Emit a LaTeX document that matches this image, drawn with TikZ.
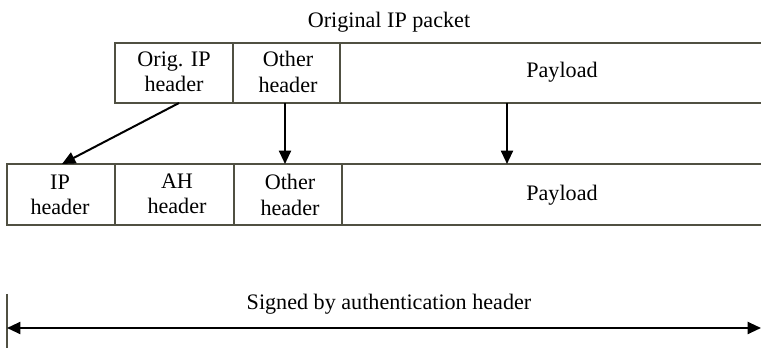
\documentclass[tikz,border=0pt]{standalone}
\usepackage{fontspec}
\setmainfont{Liberation Serif}
\usetikzlibrary{arrows.meta}
\definecolor{framecol}{RGB}{80,80,66}
\begin{document}
\begin{tikzpicture}[x=0.75pt,y=-0.75pt,
  frame/.style={draw=framecol,line width=1.5pt},
  lbl/.style={font=\fontsize{16.6}{19}\selectfont,align=center,inner sep=0pt},
  conn/.style={draw=black,line width=1.5pt,-{Triangle[length=10pt,width=9pt]}},
  span/.style={draw=black,line width=1.5pt,{Triangle[length=10pt,width=9pt]}-{Triangle[length=10pt,width=9pt]}}]
\useasboundingbox (0,0) rectangle (761,348);
% titles
\node[lbl] (title) at (389,22) {Original IP packet};
\node[lbl] (signed) at (389,304) {Signed by authentication header};
% top row
\draw[frame] (761,43) -- (115,43) -- (115,103) -- (761,103);
\draw[frame] (233,43) -- (233,103);
\draw[frame] (340,43) -- (340,103);
\node[lbl] (oip) at (174,72) {Orig. IP\\header};
\node[lbl] (oth1) at (288,72) {Other\\header};
\node[lbl] (pay1) at (562,72) {Payload};
% bottom row
\draw[frame] (761,164) -- (7,164) -- (7,225) -- (761,225);
\draw[frame] (115,164) -- (115,225);
\draw[frame] (234,164) -- (234,225);
\draw[frame] (342,164) -- (342,225);
\node[lbl] (ip) at (60,195) {IP\\header};
\node[lbl] (ah) at (177,194) {AH\\header};
\node[lbl] (oth2) at (290,195) {Other\\header};
\node[lbl] (pay2) at (562,195) {Payload};
% connector end points
\coordinate (a1) at (179,103);
\coordinate (b1) at (62,164);
\coordinate (a2) at (285,103);
\coordinate (b2) at (285,164);
\coordinate (a3) at (507,103);
\coordinate (b3) at (507,164);
\draw[conn] (a1) -- (b1);
\draw[conn] (a2) -- (b2);
\draw[conn] (a3) -- (b3);
% signed span
\coordinate (barTop) at (7,294);
\coordinate (barBot) at (7,348);
\coordinate (sL) at (7,328);
\coordinate (sR) at (761,328);
\draw[frame] (barTop) -- (barBot);
\draw[span] (sL) -- (sR);
\end{tikzpicture}
\end{document}
